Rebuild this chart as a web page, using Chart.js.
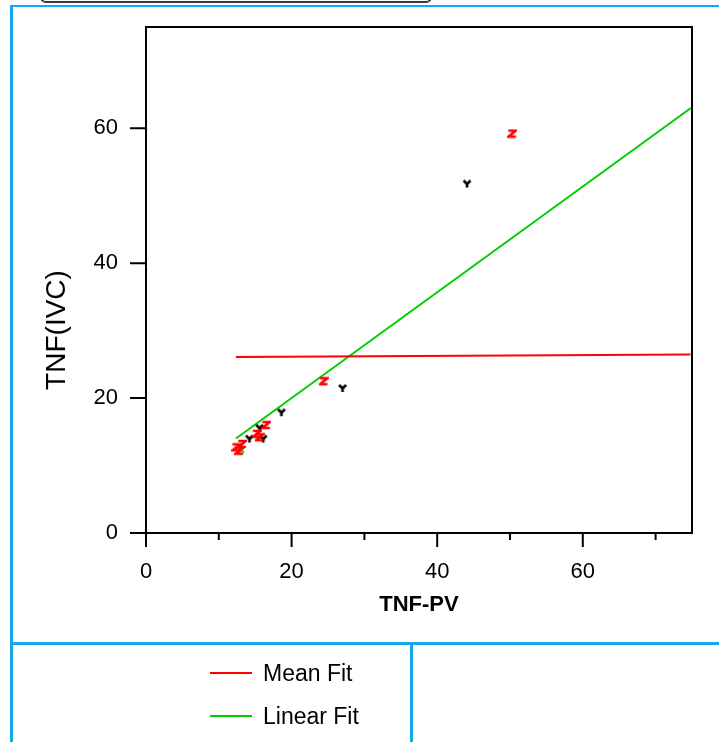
<!DOCTYPE html>
<html><head><meta charset="utf-8">
<script src="https://cdn.jsdelivr.net/npm/chart.js@4.4.1/dist/chart.umd.min.js"></script>
<style>
html,body{margin:0;padding:0;background:#fff;overflow:hidden;}
#wrap{position:relative;width:719px;height:742px;overflow:hidden;font-family:"Liberation Sans",Arial,sans-serif;}
#c{position:absolute;left:0;top:0;}
.b{position:absolute;background:#14a8e6;}
#topbox{position:absolute;left:40px;top:-12px;width:388px;height:11px;border:2px solid #3a3a3a;border-radius:6px;}
.leg{position:absolute;left:210px;height:28px;display:flex;align-items:center;font-size:23px;color:#000;}
.leg i{display:inline-block;width:42px;height:2.5px;margin-right:11px;}
</style></head><body>
<div id="wrap">
<div id="topbox"></div>
<div class="b" style="left:10px;top:5px;width:709px;height:2px"></div>
<div class="b" style="left:10px;top:5px;width:2.5px;height:737px"></div>
<div class="b" style="left:10px;top:642px;width:709px;height:2.5px"></div>
<div class="b" style="left:410px;top:642px;width:2.5px;height:100px"></div>
<canvas id="c" width="719" height="742"></canvas>
<div id="legend"></div>
</div>
<script>
// ---- data ----
const xTitle = 'TNF-PV';
const yTitle = 'TNF(IVC)';
const xMajor = [0, 20, 40, 60];
const xMinor = [10, 30, 50, 70];
const yMajor = [0, 20, 40, 60];
const redX = [12.4, 13.2, 12.8, 15.2, 15.6, 16.5, 24.4, 50.3];
const redY = [12.7, 13.2, 12.2, 14.7, 14.2, 16.0, 22.5, 59.2];
const blackX = [14.2, 15.6, 16.1, 18.6, 27.0, 44.1];
const blackY = [14.0, 15.6, 14.0, 17.9, 21.5, 51.8];
const greenX = [13.1];
const greenY = [12.3];
const meanFitX = [12.35, 74.8];
const meanFitY = [26.07, 26.47];
const linFitX = [12.35, 74.85];
const linFitY = [14.0, 63.0];

const pts = (xs, ys) => xs.map((x, i) => ({x, y: ys[i]}));

function mk(w, h, draw) {
  const c = document.createElement('canvas'); c.width = w; c.height = h;
  const g = c.getContext('2d'); draw(g); return c;
}
const zMark = mk(10, 10, g => {
  g.strokeStyle = '#ff0000'; g.lineWidth = 2.6; g.lineJoin = 'miter'; g.lineCap = 'square';
  g.beginPath(); g.moveTo(2.5, 2); g.lineTo(8.5, 2); g.lineTo(1.5, 8); g.lineTo(7.5, 8); g.stroke();
});
const vMark = mk(10, 10, g => {
  g.strokeStyle = '#000'; g.fillStyle = '#000'; g.lineWidth = 2.6;
  g.beginPath(); g.moveTo(1.5, 2); g.lineTo(5, 5.5); g.lineTo(8.5, 2); g.stroke();
  g.beginPath(); g.moveTo(5, 4.5); g.lineTo(5, 9); g.stroke();
});
const gMark = mk(7, 7, g => {
  g.strokeStyle = '#00cc00'; g.lineWidth = 2;
  g.beginPath(); g.moveTo(1, 1); g.lineTo(6, 6); g.moveTo(6, 1); g.lineTo(1, 6); g.stroke();
});

const FONT = '"Liberation Sans", Arial, sans-serif';
Chart.defaults.font.family = FONT;
Chart.defaults.color = '#000';

const deco = {
  id: 'deco',
  afterDraw(chart) {
    const {ctx, chartArea: a, scales: {x, y}} = chart;
    ctx.save();
    ctx.strokeStyle = '#000'; ctx.lineWidth = 2;
    ctx.strokeRect(a.left, a.top, a.right - a.left, a.bottom - a.top);
    ctx.beginPath();
    xMajor.forEach(v => { const p = x.getPixelForValue(v); ctx.moveTo(p, a.bottom); ctx.lineTo(p, a.bottom + 14); });
    xMinor.forEach(v => { const p = x.getPixelForValue(v); ctx.moveTo(p, a.bottom); ctx.lineTo(p, a.bottom + 7); });
    yMajor.forEach(v => { const p = y.getPixelForValue(v); ctx.moveTo(a.left, p); ctx.lineTo(a.left - 16, p); });
    ctx.stroke();
    ctx.fillStyle = '#000';
    ctx.font = '28px ' + FONT;
    ctx.textAlign = 'center'; ctx.textBaseline = 'middle';
    ctx.translate(57, 330); ctx.rotate(-Math.PI / 2);
    ctx.fillText(yTitle, 0, 0);
    ctx.restore();
  }
};

const chart = new Chart(document.getElementById('c'), {
  type: 'scatter',
  data: {
    datasets: [
      {label: 'red', data: pts(redX, redY), pointStyle: zMark, pointRadius: 5, order: 1},
      {label: 'black', data: pts(blackX, blackY), pointStyle: vMark, pointRadius: 5, order: 1},
      {label: 'green', data: pts(greenX, greenY), pointStyle: gMark, pointRadius: 3, order: 2},
      {label: 'Mean Fit', type: 'line', data: pts(meanFitX, meanFitY), borderColor: '#ff0000', borderWidth: 2, pointRadius: 0, fill: false, order: 3, legend: true},
      {label: 'Linear Fit', type: 'line', data: pts(linFitX, linFitY), borderColor: '#00cc00', borderWidth: 2, pointRadius: 0, fill: false, order: 3, legend: true}
    ]
  },
  options: {
    responsive: false, animation: false, devicePixelRatio: 1,
    layout: {padding: {top: 27, right: 27, left: 0, bottom: 0}},
    plugins: {legend: {display: false}, tooltip: {enabled: false}},
    scales: {
      x: {
        type: 'linear', min: 0, max: 75,
        afterBuildTicks: s => { s.ticks = xMajor.map(v => ({value: v})); },
        afterFit: s => { s.height = 742 - 533; s.paddingLeft = 0; s.paddingRight = 0; },
        grid: {display: false, drawTicks: false, tickLength: 0},
        border: {display: false},
        ticks: {font: {size: 22}, padding: 26, maxRotation: 0, autoSkip: false},
        title: {display: true, text: xTitle, font: {size: 22, weight: 'bold'}, padding: {top: 0, bottom: 124}}
      },
      y: {
        type: 'linear', min: 0, max: 75,
        afterBuildTicks: s => { s.ticks = yMajor.map(v => ({value: v})); },
        afterFit: s => { s.width = 146; s.paddingTop = 0; s.paddingBottom = 0; },
        grid: {display: false, drawTicks: false, tickLength: 0},
        border: {display: false},
        ticks: {font: {size: 22}, padding: 28, autoSkip: false}
      }
    }
  },
  plugins: [deco]
});

// legend built from the fit datasets
const leg = document.getElementById('legend');
chart.data.datasets.filter(d => d.legend).forEach((d, i) => {
  const el = document.createElement('div');
  el.className = 'leg';
  el.style.top = (659 + i * 43) + 'px';
  el.innerHTML = '<i style="background:' + d.borderColor + '"></i>';
  el.appendChild(document.createTextNode(d.label));
  leg.appendChild(el);
});
</script>
</body></html>
